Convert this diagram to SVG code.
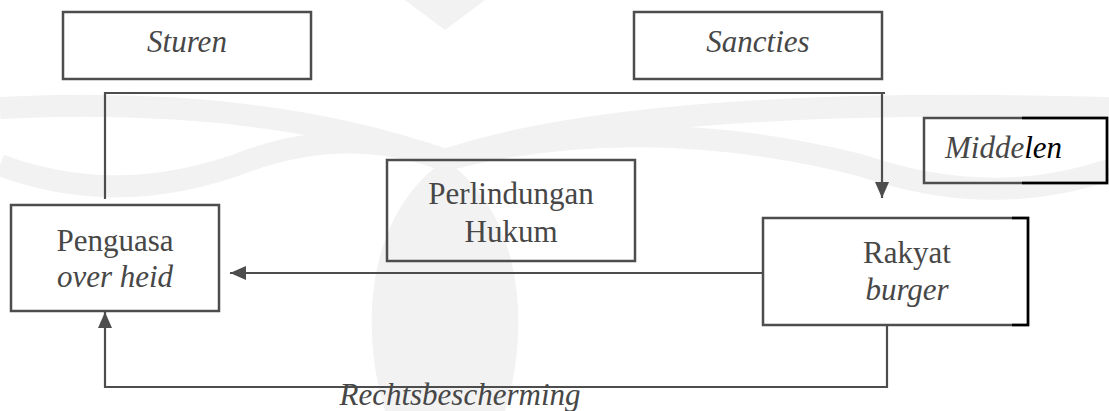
<svg xmlns="http://www.w3.org/2000/svg" width="1109" height="411" viewBox="0 0 1109 411">
<style>
.box{fill:none;stroke:#4d4d4d;stroke-width:2.5}
.t{font-family:'Liberation Serif','DejaVu Serif',serif;font-size:31px;fill:#474747;text-anchor:middle}
.i{font-style:italic}
.c{fill:none;stroke:#4d4d4d;stroke-width:2.2}
.wm{fill:#f2f2f2}
.wb{fill:none;stroke:#f2f2f2;stroke-width:22}
</style>
<defs>
<marker id="ah" markerUnits="userSpaceOnUse" markerWidth="16" markerHeight="14" refX="16" refY="7" orient="auto">
<path d="M0,0 L16,7 L0,14 Z" fill="#4d4d4d"/>
</marker>
</defs>
<rect width="1109" height="411" fill="#fff"/>
<g id="watermark">
<path class="wm" d="M405,0 L445,30 L485,0 Z"/>
<path class="wb" d="M0,108 Q260,95 445,160"/>
<path class="wb" d="M0,165 Q120,210 250,160 Q350,125 445,160"/>
<path class="wb" d="M1109,108 Q640,95 445,160"/>
<path class="wb" d="M1109,170 Q990,210 860,165 Q640,110 445,160"/>
<path class="wm" d="M445,160 C525,215 530,330 505,411 L385,411 C360,330 365,215 445,160 Z"/>
</g>
<g id="connectors">
<path class="c" d="M105,199 V93 H885 M882,93 V198" marker-end="url(#ah)"/>
<path class="c" d="M763,273 H230" marker-end="url(#ah)"/>
<path class="c" d="M887,325 V387 H105 V312" marker-end="url(#ah)"/>
</g>
<g id="sturen" font-family="Liberation Serif, serif">
<rect class="box" x="63" y="12" width="248" height="67"/>
<text class="t i" x="187" y="52" font-family="Liberation Serif, serif">Sturen</text>
</g>
<g id="sancties">
<rect class="box" x="634" y="12" width="248" height="67"/>
<text class="t i" x="758" y="52">Sancties</text>
</g>
<g id="middelen">
<rect class="box" x="924" y="118" width="183" height="65"/>
<path d="M1022,118 H1107 V183 H1022" fill="none" stroke="#000" stroke-width="2.5"/>
<text class="t i" x="945" y="158" style="text-anchor:start">Midde<tspan fill="#000">len</tspan></text>
</g>
<g id="perlindungan">
<rect class="box" x="387" y="160" width="248" height="101"/>
<text class="t" x="511" y="204">Perlindungan</text>
<text class="t" x="511" y="242">Hukum</text>
</g>
<g id="penguasa">
<rect class="box" x="11" y="205" width="208" height="106"/>
<text class="t" x="115" y="251">Penguasa</text>
<text class="t i" x="115" y="287">over heid</text>
</g>
<g id="rakyat">
<rect class="box" x="763" y="218" width="265" height="107"/>
<path d="M1012,218 H1028 V325 H1012" fill="none" stroke="#000" stroke-width="2.5"/>
<text class="t" x="907" y="263">Rakyat</text>
<text class="t i" x="907" y="300">burger</text>
</g>
<g id="label">
<text class="t i" x="460" y="405">Rechtsbescherming</text>
</g>
</svg>
